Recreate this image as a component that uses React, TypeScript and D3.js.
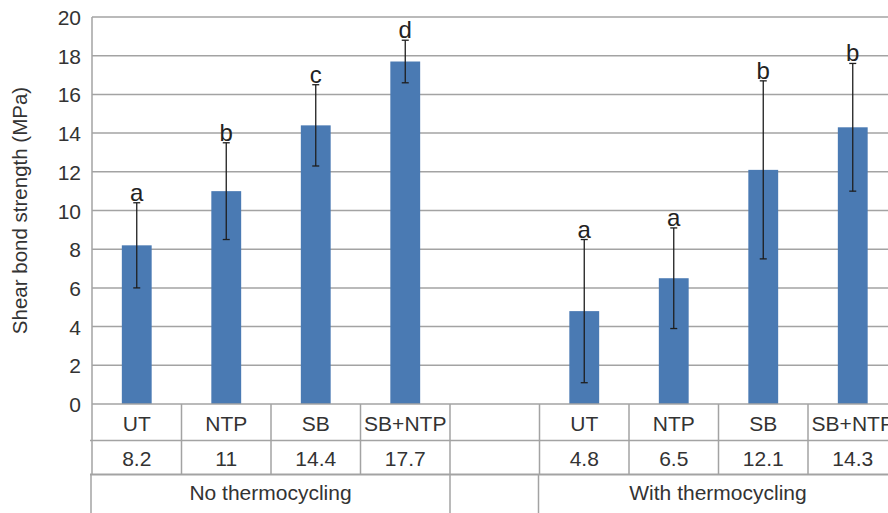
import React, { useRef, useEffect } from 'react';
import * as d3 from 'd3';

// treatment groups and categories
const groups = ['No thermocycling', 'With thermocycling'];
const categories = ['UT', 'NTP', 'SB', 'SB+NTP'];

// mean shear bond strength (MPa), per group
const meansNoTC = [8.2, 11, 14.4, 17.7];
const meansTC = [4.8, 6.5, 12.1, 14.3];

// standard deviations
const sdNoTC = [2.2, 2.5, 2.1, 1.1];
const sdTC = [3.7, 2.6, 4.6, 3.3];

// significance letters
const lettersNoTC = ['a', 'b', 'c', 'd'];
const lettersTC = ['a', 'a', 'b', 'b'];

const yTicks = [0, 2, 4, 6, 8, 10, 12, 14, 16, 18, 20];

const W = 888;
const H = 513;

const App = () => {
  const svgRef = useRef(null);

  useEffect(() => {
    const svg = d3.select(svgRef.current);
    svg.selectAll('*').remove();

    const font = '"Liberation Sans", Arial, sans-serif';
    const textColor = '#333';
    const lineColor = '#a3a3a3';

    // 9 slots: 4 bars, an empty spacer, 4 bars
    const slots = [
      ...categories.map((c, i) => ({ key: 'g0-' + c, cat: c, value: meansNoTC[i], sd: sdNoTC[i], letter: lettersNoTC[i] })),
      { key: 'spacer', cat: null, value: null, sd: null, letter: null },
      ...categories.map((c, i) => ({ key: 'g1-' + c, cat: c, value: meansTC[i], sd: sdTC[i], letter: lettersTC[i] })),
    ];

    const left = 92;
    const slotW = 89.5;
    const right = left + slotW * slots.length;
    const top = 17;
    const zeroY = 404;
    const row1 = 440.5;
    const row2 = 474.5;

    const x = d3.scaleBand()
      .domain(slots.map(d => d.key))
      .range([left, right])
      .padding(0);

    const y = d3.scaleLinear()
      .domain([0, 20])
      .range([zeroY, top]);

    const barW = x.bandwidth() / 3;

    // gridlines
    svg.append('g')
      .selectAll('line')
      .data(yTicks.filter(t => t > 0))
      .join('line')
      .attr('x1', left)
      .attr('x2', right)
      .attr('y1', d => y(d))
      .attr('y2', d => y(d))
      .attr('stroke', lineColor)
      .attr('stroke-width', 1.5);

    // y tick labels
    svg.append('g')
      .selectAll('text')
      .data(yTicks)
      .join('text')
      .attr('x', 81)
      .attr('y', d => y(d) + 8)
      .attr('text-anchor', 'end')
      .attr('font-family', font)
      .attr('font-size', 21)
      .attr('fill', textColor)
      .text(d => d);

    // y axis title
    svg.append('text')
      .attr('transform', `translate(27,${(top + zeroY) / 2}) rotate(-90)`)
      .attr('text-anchor', 'middle')
      .attr('font-family', font)
      .attr('font-size', 20.5)
      .attr('fill', textColor)
      .text('Shear bond strength (MPa)');

    const bars = slots.filter(d => d.value !== null);

    // bars
    svg.append('g')
      .selectAll('rect')
      .data(bars)
      .join('rect')
      .attr('x', d => x(d.key) + (x.bandwidth() - barW) / 2)
      .attr('y', d => y(d.value))
      .attr('width', barW)
      .attr('height', d => zeroY - y(d.value))
      .attr('fill', '#4a7ab3');

    // error bars
    const err = svg.append('g')
      .attr('stroke', '#1e1e1e')
      .attr('stroke-width', 1.3);
    bars.forEach(d => {
      const cx = x(d.key) + x.bandwidth() / 2;
      const yTop = y(d.value + d.sd);
      const yBot = y(d.value - d.sd);
      err.append('line').attr('x1', cx).attr('x2', cx).attr('y1', yTop).attr('y2', yBot);
      err.append('line').attr('x1', cx - 3.5).attr('x2', cx + 3.5).attr('y1', yTop).attr('y2', yTop);
      err.append('line').attr('x1', cx - 3.5).attr('x2', cx + 3.5).attr('y1', yBot).attr('y2', yBot);
    });

    // significance letters
    svg.append('g')
      .selectAll('text')
      .data(bars)
      .join('text')
      .attr('x', d => x(d.key) + x.bandwidth() / 2)
      .attr('y', d => y(d.value + d.sd) - 2)
      .attr('text-anchor', 'middle')
      .attr('font-family', font)
      .attr('font-size', 24)
      .attr('fill', '#222')
      .text(d => d.letter);

    // data table
    const table = svg.append('g')
      .attr('stroke', lineColor)
      .attr('stroke-width', 1.5);

    // axis line + left border
    table.append('line').attr('x1', left).attr('x2', left).attr('y1', top).attr('y2', row2);
    table.append('line').attr('x1', left - 1).attr('x2', left - 1).attr('y1', row2).attr('y2', H + 5);
    // horizontal table lines
    [zeroY, row1].forEach(yy => {
      table.append('line').attr('x1', yy === zeroY ? left : left - 2).attr('x2', right).attr('y1', yy).attr('y2', yy);
    });
    table.append('line').attr('x1', left - 2).attr('x2', right).attr('y1', row2).attr('y2', row2).attr('stroke-width', 2);

    // vertical separators in the category and value rows
    slots.slice(1).forEach(d => {
      const xx = x(d.key);
      table.append('line').attr('x1', xx).attr('x2', xx).attr('y1', zeroY).attr('y2', row2);
    });

    // group row separators
    const g0End = x('spacer');
    const g1Start = x('g1-UT') - 1;
    [g0End, g1Start].forEach(xx => {
      table.append('line').attr('x1', xx).attr('x2', xx).attr('y1', row2).attr('y2', H + 5);
    });

    // category labels
    svg.append('g')
      .selectAll('text')
      .data(bars)
      .join('text')
      .attr('x', d => x(d.key) + x.bandwidth() / 2)
      .attr('y', zeroY + 27)
      .attr('text-anchor', 'middle')
      .attr('font-family', font)
      .attr('font-size', 21)
      .attr('fill', textColor)
      .text(d => d.cat);

    // value labels
    svg.append('g')
      .selectAll('text')
      .data(bars)
      .join('text')
      .attr('x', d => x(d.key) + x.bandwidth() / 2)
      .attr('y', row1 + 25)
      .attr('text-anchor', 'middle')
      .attr('font-family', font)
      .attr('font-size', 21)
      .attr('fill', textColor)
      .text(d => d.value);

    // group labels
    const groupSpans = [
      [left - 1, g0End],
      [g1Start, right],
    ];
    svg.append('g')
      .selectAll('text')
      .data(groups)
      .join('text')
      .attr('x', (d, i) => (groupSpans[i][0] + groupSpans[i][1]) / 2)
      .attr('y', row2 + 25)
      .attr('text-anchor', 'middle')
      .attr('font-family', font)
      .attr('font-size', 21)
      .attr('fill', textColor)
      .text(d => d);
  }, []);

  return (
    <svg
      ref={svgRef}
      width={W}
      height={H}
      style={{ position: 'absolute', left: 0, top: 0, background: '#fff' }}
    ></svg>
  );
};

export default App;
